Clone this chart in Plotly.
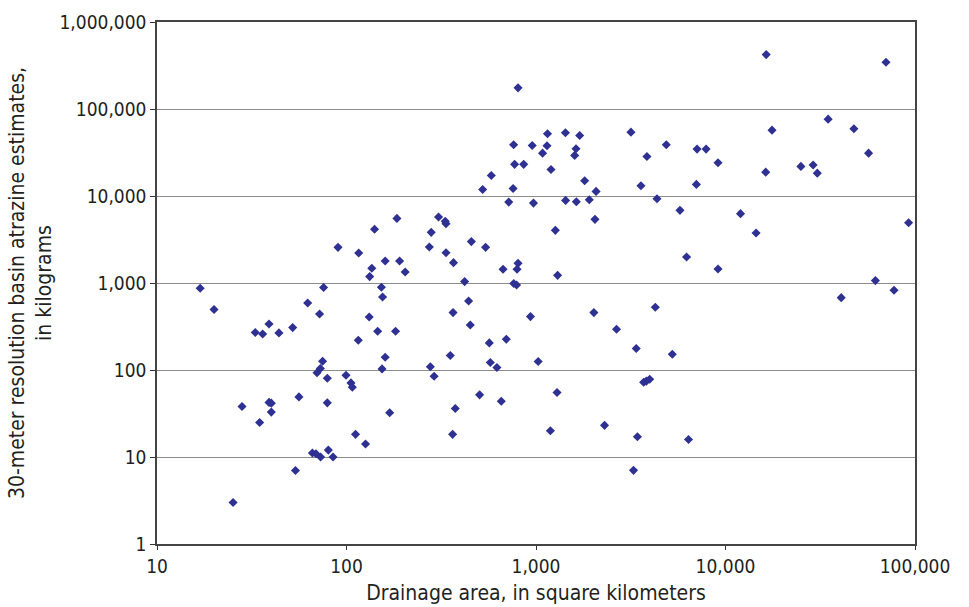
import plotly.graph_objects as go

# Drainage area (km^2)
drainage_area = [
    804, 1150, 762, 955, 1143, 1083, 771, 861, 1200, 581,
    523, 757, 718, 970, 1265, 184.5, 140.6, 306, 332, 335,
    280, 90.2, 116, 273.6, 456, 542, 335, 136, 160, 190.6,
    132.5, 204, 367, 670, 804, 794, 1300, 420, 763, 790,
    16.9, 75.7, 152.8, 155, 441, 20.0, 62.4, 72.1, 131.8, 146,
    181.5, 115.4, 33.0, 36.1, 39.0, 44.0, 52.0, 74.8, 72.8, 69.9,
    79.2, 99.4, 105.6, 107.3, 160, 154, 56.1, 28.1, 39.0, 40.1,
    40.1, 34.8, 79.2, 169, 111.6, 126, 66.1, 69.0, 73.0, 80.2,
    84.9, 53.8, 25.2, 365, 450, 567, 697, 935, 1027, 353,
    277, 290, 574, 622, 504, 656, 375, 363, 1191, 1291,
    16400, 70300, 34800, 47600, 17600, 56900, 3170, 4870, 7080, 7900,
    9130, 3850, 3580, 7020, 16300, 25000, 29000, 30500, 4350, 5750,
    12000, 14500, 92500, 6230, 9130, 61800, 77500, 40800,
    1430, 1700, 1626, 1600, 1806, 2075, 1433, 1633, 1911, 2047,
    2020, 2660, 4260, 3380, 5240, 3700, 3820, 3980, 2300, 3430,
    6380, 3270,
]

# 30-meter resolution basin atrazine estimates (kg)
atrazine_kg = [
    175000, 52000, 38800, 38100, 37800, 31100, 23100, 23100, 20200, 17200,
    11900, 12200, 8510, 8290, 4030, 5530, 4140, 5730, 5110, 4810,
    3820, 2570, 2210, 2590, 2990, 2570, 2230, 1475, 1790, 1790,
    1184, 1337, 1714, 1437, 1683, 1437, 1225, 1038, 985, 950,
    869, 886, 893, 690, 621, 495, 589, 440, 407, 279,
    279, 220, 270, 259, 338, 267, 307, 126, 104, 93,
    80.5, 87.2, 71.1, 63.5, 140, 103, 49.1, 38.1, 42.4, 41.6,
    32.8, 24.9, 41.9, 32.2, 18.2, 14.1, 11.1, 10.9, 10.0, 12.0,
    10.0, 7.0, 3.0, 457, 329, 205, 226, 411, 125, 147,
    109, 84.9, 122, 107, 51.8, 43.8, 36.1, 18.2, 20.0, 55.2,
    422000, 344000, 76400, 59300, 57100, 31100, 54200, 38800, 34600, 34600,
    24100, 28500, 13100, 13600, 18800, 21900, 22700, 18300, 9310, 6840,
    6270, 3750, 4930, 1990, 1450, 1066, 824, 679,
    53300, 49600, 34900, 29300, 15000, 11300, 8900, 8600, 9070, 5390,
    457, 294, 526, 177, 152, 72.4, 74.4, 78.4, 23.1, 17.1,
    15.9, 7.02,
]

x_tick_vals = [10, 100, 1000, 10000, 100000]
x_tick_text = ["10", "100", "1,000", "10,000", "100,000"]
y_tick_vals = [1, 10, 100, 1000, 10000, 100000, 1000000]
y_tick_text = ["1", "10", "100", "1,000", "10,000", "100,000", "1,000,000"]

FONT = "Liberation Sans Narrow, Arial Narrow, DejaVu Sans Condensed, sans-serif"
TEXT_COLOR = "#231F20"

fig = go.Figure(
    go.Scatter(
        x=drainage_area,
        y=atrazine_kg,
        mode="markers",
        marker=dict(symbol="diamond", size=7, color="#2E3192", line=dict(width=0)),
        showlegend=False,
        hoverinfo="x+y",
    )
)

fig.update_layout(
    width=969,
    height=607,
    margin=dict(l=157, r=54, t=22, b=63),
    paper_bgcolor="white",
    plot_bgcolor="white",
    font=dict(family=FONT, size=20, color=TEXT_COLOR),
    xaxis=dict(
        type="log",
        range=[1, 5],
        tickvals=x_tick_vals,
        ticktext=x_tick_text,
        ticks="outside",
        ticklen=4,
        tickcolor="#333333",
        showgrid=False,
        zeroline=False,
        showline=True,
        linecolor="#444444",
        linewidth=1.5,
        mirror=True,
        tickfont=dict(family=FONT, size=19, color=TEXT_COLOR),
        title=dict(text="Drainage area, in square kilometers",
                   font=dict(family=FONT, size=21, color=TEXT_COLOR), standoff=10),
        automargin=False,
    ),
    yaxis=dict(
        type="log",
        range=[0, 6],
        tickvals=y_tick_vals,
        ticktext=y_tick_text,
        ticks="outside",
        ticklen=5,
        tickcolor="#333333",
        showgrid=True,
        gridcolor="#8C8C8C",
        gridwidth=1,
        zeroline=False,
        showline=True,
        linecolor="#444444",
        linewidth=1.5,
        mirror=True,
        tickfont=dict(family=FONT, size=19, color=TEXT_COLOR),
        title=dict(text="30-meter resolution basin atrazine estimates,<br>in kilograms",
                   font=dict(family=FONT, size=21, color=TEXT_COLOR), standoff=2),
        automargin=False,
    ),
)

fig.write_html(
    "out.html",
    config={"displayModeBar": False},
    post_script="document.body.style.margin='0';document.body.style.overflow='hidden';",
)
